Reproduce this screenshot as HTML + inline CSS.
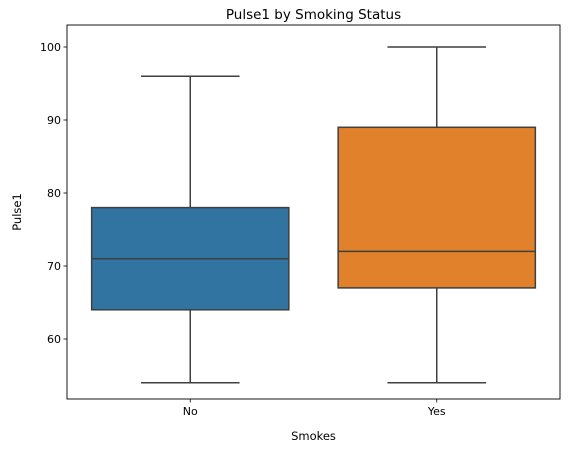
<!DOCTYPE html>
<html><head><meta charset="utf-8"><style>
body{margin:0;background:#fff;}
svg{display:block;font-family:"DejaVu Sans","Liberation Sans",sans-serif;}
</style></head><body>
<svg id="chart" width="571" height="453" viewBox="0 0 571 453" xmlns="http://www.w3.org/2000/svg">
<text x="313.5" y="19" text-anchor="middle" font-size="13.5" fill="#000">Pulse1 by Smoking Status</text>
<g id="plot"></g>
<rect x="67" y="25" width="493" height="374" fill="none" stroke="#000" stroke-width="0.9"/>
<text transform="translate(21,212) rotate(-90)" text-anchor="middle" font-size="11.5">Pulse1</text>
<text x="313.5" y="440" text-anchor="middle" font-size="11.5">Smokes</text>
</svg>
<script>
const categories = ["No", "Yes"];
const whiskerLow = [54, 54];
const q1 = [64, 67];
const medians = [71, 72];
const q3 = [78, 89];
const whiskerHigh = [96, 100];
const yTicks = [60, 70, 80, 90, 100];
const colors = ["#3274a1", "#e1812c"];

const L=67,R=560,T=25,B=399;
function y(v){return 47+(100-v)*7.3;}
const band=(R-L)/categories.length;
function xc(i){return L+band*(i+0.5);}
const NS="http://www.w3.org/2000/svg";
const g=document.getElementById('plot');
function mk(tag,attrs){const e=document.createElementNS(NS,tag);for(const k in attrs)e.setAttribute(k,attrs[k]);g.appendChild(e);return e;}
const line="#3f3f3f";
yTicks.forEach(t=>{
  const tk=mk('line',{x1:L-3.5,x2:L,y1:y(t),y2:y(t),stroke:'#000','stroke-width':0.8});
  
  
  const tx=mk('text',{x:L-6,y:y(t)+4,'text-anchor':'end','font-size':11});
  tx.textContent=t;
  
  
});
categories.forEach((c,i)=>{
  const cx=xc(i), w=band*0.8, cw=w/2;
  const w1=mk('line',{x1:cx,x2:cx,y1:y(whiskerLow[i]),y2:y(q1[i]),stroke:line,'stroke-width':1.5});
  
  
  const w2=mk('line',{x1:cx,x2:cx,y1:y(q3[i]),y2:y(whiskerHigh[i]),stroke:line,'stroke-width':1.5});
  
  
  const c1=mk('line',{x1:cx-cw/2,x2:cx+cw/2,y1:y(whiskerLow[i]),y2:y(whiskerLow[i]),stroke:line,'stroke-width':1.5});
  
  
  const c2=mk('line',{x1:cx-cw/2,x2:cx+cw/2,y1:y(whiskerHigh[i]),y2:y(whiskerHigh[i]),stroke:line,'stroke-width':1.5});
  
  
  const b=mk('rect',{x:cx-w/2,y:y(q3[i]),width:w,height:y(q1[i])-y(q3[i]),fill:colors[i],stroke:line,'stroke-width':1.5});
  
  
  const m=mk('line',{x1:cx-w/2,x2:cx+w/2,y1:y(medians[i]),y2:y(medians[i]),stroke:line,'stroke-width':1.5});
  
  
  const tk=mk('line',{x1:cx,x2:cx,y1:B,y2:B+3.5,stroke:'#000','stroke-width':0.8});
  
  
  const tx=mk('text',{x:cx,y:B+16,'text-anchor':'middle','font-size':11});
  tx.textContent=c;
  
  
});
</script>
</body></html>
